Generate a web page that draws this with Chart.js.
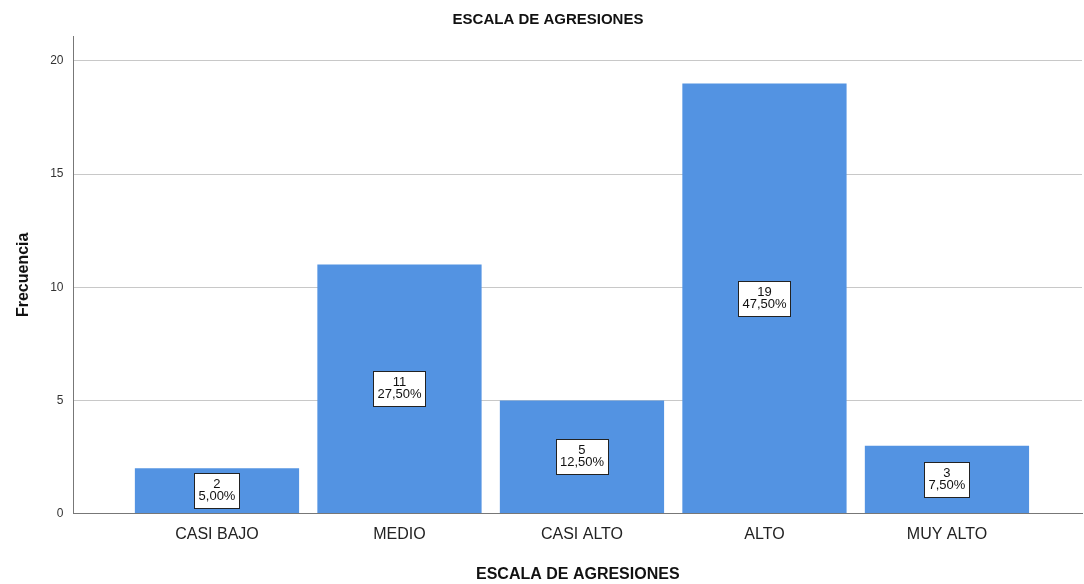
<!DOCTYPE html>
<html>
<head>
<meta charset="utf-8">
<script src="https://cdn.jsdelivr.net/npm/chart.js@4"></script>
<style>
  body { margin: 0; background: #fff; }
  #grafico { display: block; }
</style>
</head>
<body>
<canvas id="grafico" width="1084" height="584"></canvas>
<script>
// datos
var categorias = ['CASI BAJO', 'MEDIO', 'CASI ALTO', 'ALTO', 'MUY ALTO']
var frecuencias = [2, 11, 5, 19, 3]
var porcentajes = ['5,00%', '27,50%', '12,50%', '47,50%', '7,50%']
var ticksY = [0, 5, 10, 15, 20]

var fuente = "Arial, 'Liberation Sans', sans-serif"
var colorBarra = 'rgb(83,147,226)'

// etiquetas con caja blanca en el centro de cada barra
var etiquetasBarras = {
    id: 'etiquetasBarras',
    afterDatasetsDraw: function (chart) {
        var ctx = chart.ctx
        var barras = chart.getDatasetMeta(0).data
        ctx.save()
        ctx.font = '13px ' + fuente
        ctx.textAlign = 'center'
        ctx.textBaseline = 'middle'
        for (var i = 0; i < barras.length; i++) {
            var b = barras[i]
            var cy = (b.y + b.base) / 2
            var l1 = String(frecuencias[i])
            var l2 = porcentajes[i]
            var w = Math.round(Math.max(ctx.measureText(l1).width, ctx.measureText(l2).width) + 8)
            var h = 35
            var x0 = Math.round(b.x - w / 2) + 0.5
            var y0 = Math.round(cy - h / 2) + 0.5
            ctx.fillStyle = '#fff'
            ctx.fillRect(x0, y0, w, h)
            ctx.strokeStyle = '#222'
            ctx.lineWidth = 1
            ctx.strokeRect(x0, y0, w, h)
            ctx.fillStyle = '#111'
            ctx.fillText(l1, b.x, cy - 6)
            ctx.fillText(l2, b.x, cy + 6)
        }
        ctx.restore()
    }
}

var datos = []
for (var i = 0; i < frecuencias.length; i++) {
    datos.push({ x: i, y: frecuencias[i] })
}

var grafico = new Chart(document.getElementById('grafico'), {
    type: 'bar',
    data: {
        datasets: [{
            data: datos,
            backgroundColor: colorBarra,
            borderWidth: 0,
            barPercentage: 0.9,
            categoryPercentage: 1
        }]
    },
    options: {
        responsive: false,
        animation: false,
        layout: { padding: { top: 7, right: 2, bottom: 0, left: 14 } },
        plugins: {
            legend: { display: false },
            tooltip: { enabled: false },
            title: {
                display: true,
                text: 'ESCALA DE AGRESIONES',
                color: '#111',
                font: { family: fuente, size: 15, weight: 'bold' },
                padding: { top: 4, bottom: 7 }
            }
        },
        scales: {
            x: {
                type: 'linear',
                offset: false,
                min: -0.786,
                max: 4.74,
                afterBuildTicks: function (scale) {
                    scale.ticks = categorias.map(function (c, i) { return { value: i } })
                },
                ticks: {
                    autoSkip: false,
                    maxRotation: 0,
                    color: '#222',
                    font: { family: fuente, size: 16 },
                    padding: 11,
                    callback: function (v) { return categorias[v] }
                },
                grid: { display: false, drawTicks: false },
                border: { display: true, color: '#777', width: 1 },
                title: {
                    display: true,
                    text: 'ESCALA DE AGRESIONES',
                    color: '#111',
                    font: { family: fuente, size: 16, weight: 'bold' },
                    padding: { top: 10, bottom: 0 }
                }
            },
            y: {
                min: 0,
                max: 21.1,
                afterBuildTicks: function (scale) {
                    scale.ticks = ticksY.map(function (v) { return { value: v } })
                },
                ticks: {
                    color: '#333',
                    font: { family: fuente, size: 12 },
                    padding: 10
                },
                grid: { color: '#c8c8c8', drawTicks: false },
                border: { display: true, color: '#777', width: 1 },
                title: {
                    display: true,
                    text: 'Frecuencia',
                    color: '#111',
                    font: { family: fuente, size: 16, weight: 'bold' },
                    padding: { top: 0, bottom: 7 }
                }
            }
        }
    },
    plugins: [etiquetasBarras]
})
</script>
</body>
</html>
